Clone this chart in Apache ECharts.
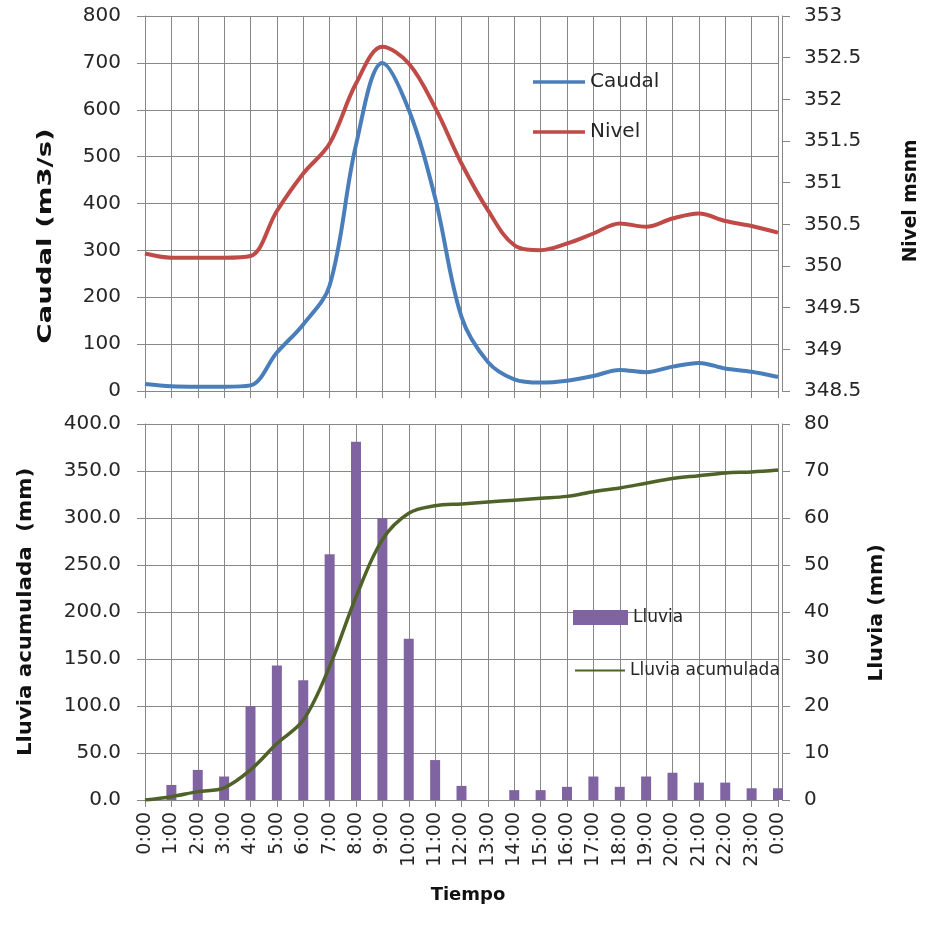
<!DOCTYPE html>
<html>
<head>
<meta charset="utf-8">
<script src="https://cdn.jsdelivr.net/npm/echarts@6/dist/echarts.min.js"></script>
<style>
  html, body { margin: 0; padding: 0; background: #fff; }
  #chart { width: 925px; height: 942px; }
</style>
</head>
<body>
<div id="chart"></div>
<script>
// Hourly categories (0:00 .. 23:00, then 0:00 of the next day)
const horas = ['0:00','1:00','2:00','3:00','4:00','5:00','6:00','7:00','8:00','9:00','10:00','11:00',
  '12:00','13:00','14:00','15:00','16:00','17:00','18:00','19:00','20:00','21:00','22:00','23:00','0:00'];

// Flow (m3/s)
const caudal = [15, 10, 9, 9, 12, 82, 142, 225, 525, 700, 600, 412, 158, 62, 25, 18, 22, 32, 45, 40, 52, 60, 48, 41, 30];

// Water level (m a.s.l.)
const nivel = [350.15, 350.1, 350.1, 350.1, 350.12, 350.66, 351.11, 351.47, 352.19, 352.63, 352.43, 351.9,
  351.23, 350.67, 350.25, 350.19, 350.27, 350.39, 350.51, 350.47, 350.57, 350.63, 350.54, 350.48, 350.4];

// Hourly rainfall (mm)
const lluvia = [0, 3.2, 6.4, 5.0, 20, 28.6, 25.5, 52.3, 76.2, 60, 34.3, 8.5, 3.0, 0, 2.1, 2.1, 2.8, 5.0, 2.8, 5.0, 5.8, 3.7, 3.7, 2.5, 2.5];

// Accumulated rainfall (mm)
const lluviaAcumulada = [0, 3.5, 8.9, 13, 32, 60, 85, 142, 216, 277, 305, 313, 315, 317, 319, 321, 323, 328, 332, 337, 342, 345, 348, 349, 351];

const GRID = '#878787';
const TXT = '#262626';
const FONT = 'DejaVu Sans';

function axisText(size) {
  return { color: TXT, fontFamily: FONT, fontSize: size };
}

function catAxis(gridIndex, showLabels) {
  return {
    type: 'category', gridIndex: gridIndex, data: horas, boundaryGap: false,
    axisLine: { show: true, lineStyle: { color: GRID, width: 1 } },
    axisTick: { show: true, inside: false, length: 7, interval: 0, alignWithLabel: true, lineStyle: { color: GRID } },
    axisLabel: showLabels ? Object.assign({ show: true, rotate: 90, interval: 0, margin: 12 }, axisText(19)) : { show: false },
    splitLine: { show: true, interval: 0, lineStyle: { color: GRID, width: 1 } }
  };
}

function valAxis(gridIndex, pos, min, max, step, grid, fmt) {
  return {
    type: 'value', gridIndex: gridIndex, position: pos, min: min, max: max, interval: step,
    offset: pos === 'right' ? 4 : 0,
    axisLine: { show: true, lineStyle: { color: GRID, width: 1 } },
    axisTick: { show: true, inside: false, length: 8, lineStyle: { color: GRID } },
    axisLabel: Object.assign({ margin: pos === 'right' ? 22 : 24, formatter: fmt }, axisText(20)),
    splitLine: { show: grid, lineStyle: { color: GRID, width: 1 } }
  };
}

function titleText(text, x, y, rot, size, stretch) {
  return {
    type: 'text', x: x, y: y, rotation: rot, scaleX: stretch, silent: true,
    style: { text: text, fill: '#111', fontFamily: FONT, fontWeight: 'bold', fontSize: size,
      align: 'center', verticalAlign: 'middle' }
  };
}

const chart = echarts.init(document.getElementById('chart'), null, { renderer: 'canvas' });

chart.setOption({
  animation: false,
  backgroundColor: '#fff',
  grid: [
    { left: 145, top: 16, width: 633, height: 375 },
    { left: 145, top: 424, width: 633, height: 376 }
  ],
  xAxis: [catAxis(0, false), catAxis(1, true)],
  yAxis: [
    valAxis(0, 'left', 0, 800, 100, true, v => String(v)),
    valAxis(0, 'right', 348.5, 353, 0.5, false, v => String(v)),
    valAxis(1, 'left', 0, 400, 50, true, v => v.toFixed(1)),
    valAxis(1, 'right', 0, 80, 10, false, v => String(v))
  ],
  legend: [
    {
      data: ['Caudal', 'Nivel'], orient: 'vertical', left: 528, top: 67, itemGap: 30,
      icon: 'rect', itemWidth: 52, itemHeight: 3.5, selectedMode: false,
      textStyle: axisText(20)
    },
    {
      data: ['Lluvia'], left: 568, top: 604, icon: 'rect', itemWidth: 55, itemHeight: 15,
      selectedMode: false, textStyle: axisText(17)
    },
    {
      data: ['Lluvia acumulada'], left: 570, top: 657, icon: 'rect', itemWidth: 50, itemHeight: 2,
      selectedMode: false, textStyle: axisText(17)
    }
  ],
  graphic: [
    titleText('Caudal (m3/s)', 46, 236, Math.PI / 2, 19, 1.45),
    titleText('Nivel msnm', 911, 201, Math.PI / 2, 19, 0.98),
    titleText('Lluvia acumulada  (mm)', 26, 612, Math.PI / 2, 19, 1.12),
    titleText('Lluvia (mm)', 877, 613, Math.PI / 2, 19, 1.08),
    titleText('Tiempo', 468, 895, 0, 18, 1.0)
  ],
  series: [
    {
      name: 'Caudal', type: 'line', xAxisIndex: 0, yAxisIndex: 0, data: caudal,
      smooth: 0.35, showSymbol: false, lineStyle: { color: '#4a7ebb', width: 4 }, itemStyle: { color: '#4a7ebb' }
    },
    {
      name: 'Nivel', type: 'line', xAxisIndex: 0, yAxisIndex: 1, data: nivel,
      smooth: 0.35, showSymbol: false, lineStyle: { color: '#be4b48', width: 4 }, itemStyle: { color: '#be4b48' }
    },
    {
      name: 'Lluvia', type: 'bar', xAxisIndex: 1, yAxisIndex: 3, data: lluvia,
      barWidth: 10, itemStyle: { color: '#8064a2' }
    },
    {
      name: 'Lluvia acumulada', type: 'line', xAxisIndex: 1, yAxisIndex: 2, data: lluviaAcumulada,
      smooth: 0.35, showSymbol: false, lineStyle: { color: '#4f6228', width: 3.5 }, itemStyle: { color: '#4f6228' }
    }
  ]
});
</script>
</body>
</html>
